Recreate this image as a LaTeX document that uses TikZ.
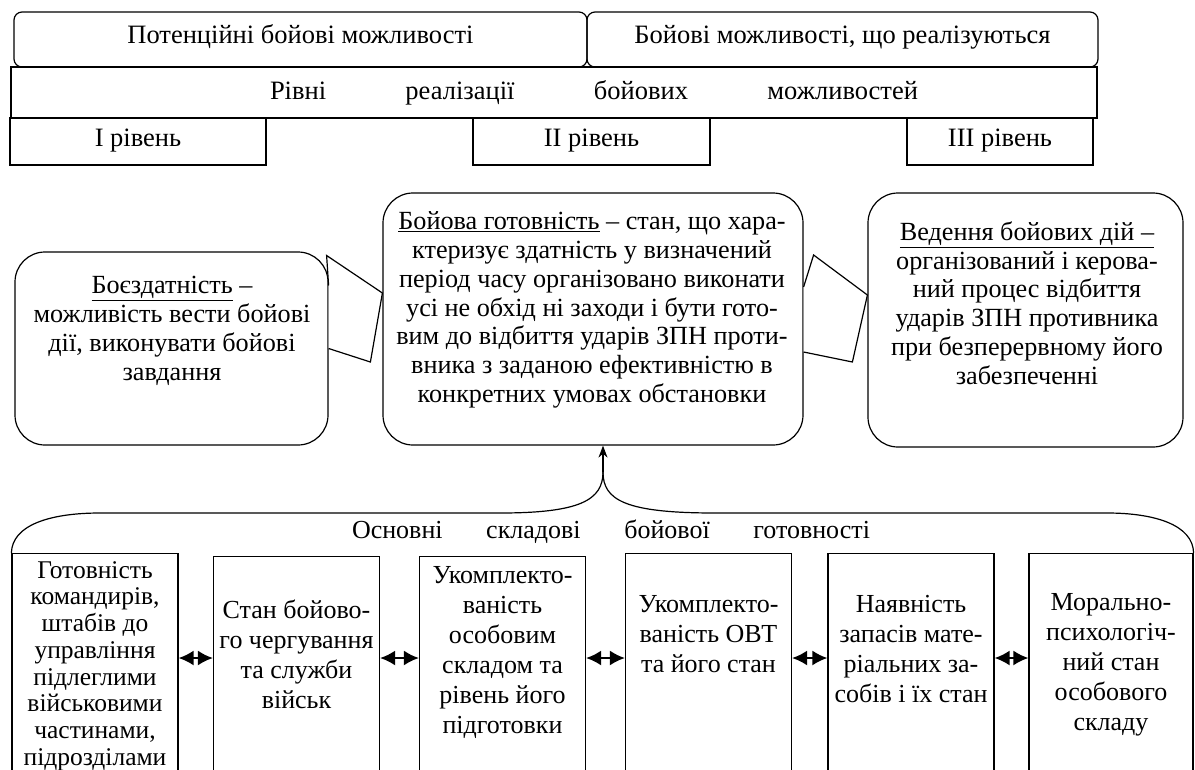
\documentclass[tikz,border=0pt]{standalone}
\usepackage{fontspec}
\setmainfont{Liberation Serif}
\usetikzlibrary{arrows.meta}

\begin{document}
\begin{tikzpicture}[x=1pt,y=-1pt,line width=1.2pt,
    topbox/.style={draw,rounded corners=8pt,minimum height=55pt,inner sep=0pt,
        text height=15pt,text depth=7pt,font=\fontsize{26.5}{29}\selectfont},
    lvlbox/.style={draw,minimum height=47pt,inner sep=0pt,
        text height=15pt,text depth=5pt,font=\fontsize{26.5}{29}\selectfont},
    midbox/.style={draw,rounded corners=30pt,inner sep=0pt},
    midtext/.style={align=center,inner sep=0pt,font=\fontsize{26.2}{28.8}\selectfont},
    compbox/.style={draw,anchor=north,minimum width=166pt,minimum height=240pt,inner sep=0pt},
    comptext/.style={align=center,inner sep=0pt,font=\fontsize{26}{30}\selectfont},
    tail/.style={draw,fill=white},
    both/.style={{Latex[length=15pt,width=15pt]}-{Latex[length=15pt,width=15pt]},line width=2pt}]

\clip (0,0) rectangle (1195,769);

% top rows
\node[topbox,minimum width=573pt] (potential) at (300.5,39.5) {Потенційні бойові можливості};
\node[topbox,minimum width=511pt] (realised) at (842.5,39.5) {Бойові можливості, що реалізуються};
\node[draw,minimum width=1086pt,minimum height=51pt,inner sep=0pt] (levels) at (554,92.5) {};
\node[align=center,text width=648pt,inner sep=0pt,font=\fontsize{26.5}{29}\selectfont] (levelstext) at (594,93)
    {Рівні\hfill реалізації\hfill бойових\hfill можливостей};
\node[lvlbox,minimum width=256pt] (lvl1) at (138,141.5) {I рівень};
\node[lvlbox,minimum width=237pt] (lvl2) at (591.5,141.5) {II рівень};
\node[lvlbox,minimum width=186pt] (lvl3) at (1000,141.5) {III рівень};

% middle row
\node[midbox,minimum width=313pt,minimum height=193pt] (bz) at (171.5,348.5) {};
\node[midbox,minimum width=420pt,minimum height=252pt] (gotov) at (593,319) {};
\node[midbox,minimum width=315pt,minimum height=254pt] (vedennya) at (1025.5,320) {};

\node[midtext] (bztext) at (172,331) {\underline{Боєздатність} –\\можливість вести бойові\\дії, виконувати бойові\\завдання};
\node[midtext] (gotovtext) at (592,310) {\underline{Бойова готовність} – стан, що хара-\\ктеризує здатність у визначений\\період часу організовано виконати\\усі не обхід ні заходи і бути гото-\\вим до відбиття ударів ЗПН проти-\\вника з заданою ефективністю в\\конкретних умовах обстановки};
\node[midtext] (vedtext) at (1027,303) {\underline{Ведення бойових дій –}\\організований і керова-\\ний процес відбиття\\ударів ЗПН противника\\при безперервному його\\забезпеченні};

\draw[tail] ([yshift=63pt]bz.east) -- ++(-2,-30) -- ([yshift=26pt]gotov.west) -- ++(-12,69) -- (bz.east);
\draw[tail] ([yshift=32pt]gotov.east) -- ++(10,-32) -- ([yshift=25pt]vedennya.west) -- ++(-15,67) -- ([yshift=-33pt]gotov.east);

% components
\node[compbox] (c1) at (95,553) {};
\node[compbox] (c2) at (296.5,556) {};
\node[compbox] (c3) at (502.5,556) {};
\node[compbox] (c4) at (708.5,553) {};
\node[compbox] (c5) at (911,553) {};
\node[compbox,minimum width=164pt] (c6) at (1111,553) {};

\node[comptext,font=\fontsize{25.5}{26.7}\selectfont] (t1) at (95,666) {Готовність\\командирів,\\штабів до\\управління\\підлеглими\\військовими\\частинами,\\підрозділами};
\node[comptext] (t2) at (296.5,654) {Стан бойово-\\го чергування\\та служби\\військ};
\node[comptext] (t3) at (502.5,652) {Укомплекто-\\ваність\\особовим\\складом та\\рівень його\\підготовки};
\node[comptext] (t4) at (708.5,634) {Укомплекто-\\ваність ОВТ\\та його стан};
\node[comptext] (t5) at (911,649) {Наявність\\запасів мате-\\ріальних за-\\собів і їх стан};
\node[comptext] (t6) at (1111,665) {Морально-\\психологіч-\\ний стан\\особового\\складу};

\node[align=center,text width=518pt,inner sep=0pt,font=\fontsize{26}{29}\selectfont] (osn) at (611,532)
    {Основні\hfill складові\hfill бойової\hfill готовності};

\foreach \a/\b in {c1/c2,c2/c3,c3/c4,c4/c5,c5/c6}
    \draw[both] (\a.east |- 0,658) -- (\b.west |- 0,658);

% brace
\coordinate (apex) at (603,472);
\draw (c1.north west) .. controls (12,525) and (50,513) .. (100,513) -- (500,513)
    .. controls (580,513) and (603,500) .. (apex);
\draw (c6.north east) .. controls (1193,525) and (1155,513) .. (1107,513) -- (715,513)
    .. controls (625,513) and (603,500) .. (apex);
\draw[-{Stealth[length=12pt,width=9pt]}] (apex) -- (apex |- gotov.south);

\end{tikzpicture}
\end{document}
